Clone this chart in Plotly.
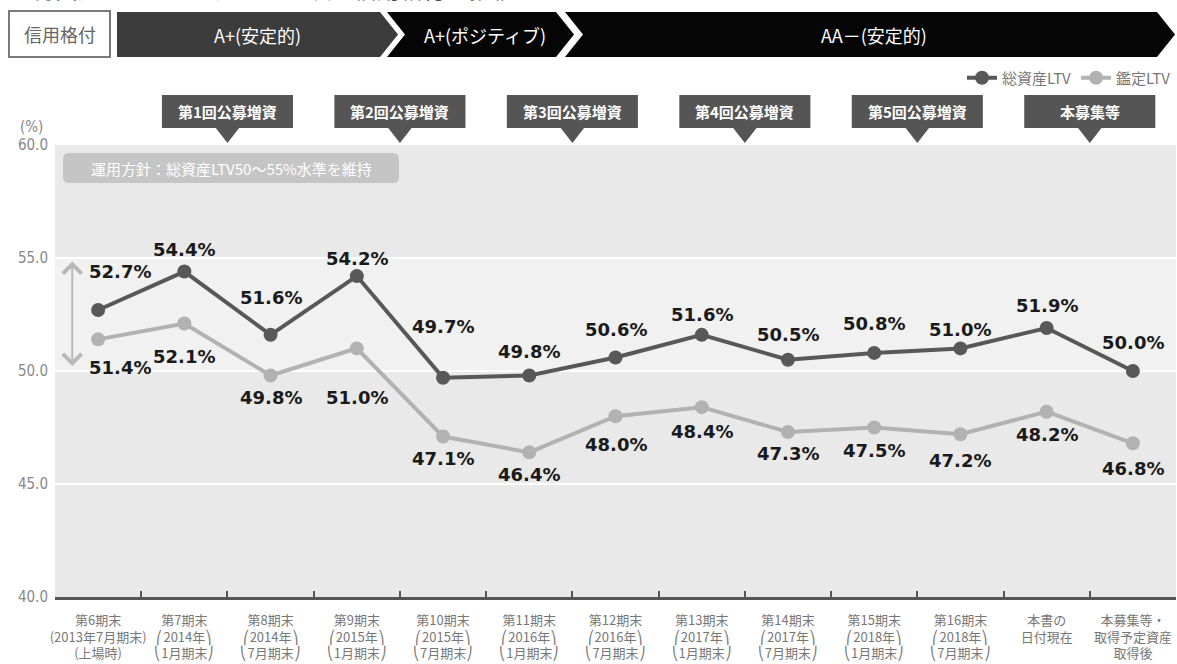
import plotly.graph_objects as go

periods = [
    '第6期末<br>(2013年7月期末)<br>(上場時)',
    '第7期末<br>⎛2014年⎞<br>⎝1月期末⎠',
    '第8期末<br>⎛2014年⎞<br>⎝7月期末⎠',
    '第9期末<br>⎛2015年⎞<br>⎝1月期末⎠',
    '第10期末<br>⎛2015年⎞<br>⎝7月期末⎠',
    '第11期末<br>⎛2016年⎞<br>⎝1月期末⎠',
    '第12期末<br>⎛2016年⎞<br>⎝7月期末⎠',
    '第13期末<br>⎛2017年⎞<br>⎝1月期末⎠',
    '第14期末<br>⎛2017年⎞<br>⎝7月期末⎠',
    '第15期末<br>⎛2018年⎞<br>⎝1月期末⎠',
    '第16期末<br>⎛2018年⎞<br>⎝7月期末⎠',
    '本書の<br>日付現在',
    '本募集等・<br>取得予定資産<br>取得後',
]
total_ltv = [52.7, 54.4, 51.6, 54.2, 49.7, 49.8, 50.6, 51.6, 50.5, 50.8, 51.0, 51.9, 50.0]
appraisal_ltv = [51.4, 52.1, 49.8, 51.0, 47.1, 46.4, 48.0, 48.4, 47.3, 47.5, 47.2, 48.2, 46.8]
y_ticks = [40, 45, 50, 55, 60]

offerings = ['第1回公募増資', '第2回公募増資', '第3回公募増資', '第4回公募増資', '第5回公募増資', '本募集等']
offering_after = [1, 3, 5, 7, 9, 11]
ratings = ['A+(安定的)', 'A+(ポジティブ)', 'AA－(安定的)']
title_text = '総資産ＬＴＶ、鑑定ＬＴＶ及び信用格付の推移'
policy_text = '運用方針：総資産LTV50～55%水準を維持'

# label nudges (pixels) so the value labels clear the lines
total_dy = [38, 22, 37, 18, 51, 24, 28, 20, 25, 29, 19, 23, 29]
appr_dy = [-28, -33, -22, -49, -22, -22, -28, -24, -21, -23, -26, -23, -25]
first_dx = 22

W, H = 1177, 664
L, R, T, B = 55, 1, 145, 67
PW, PH = W - L - R, H - T - B
CJK = 'Noto Sans CJK JP'

def px(x):
    return (x - L) / PW

def py(y):
    return (H - B - y) / PH

def cat_x(i):
    return (i + 0.5) / len(periods)

def poly(points):
    return 'M ' + ' L '.join(f'{px(x):.5f},{py(y):.5f}' for x, y in points) + ' Z'

def note(text, x, y, size, color, family=CJK, **kw):
    d = dict(text=text, xref='paper', yref='paper', x=px(x), y=py(y), showarrow=False,
             xanchor='center', yanchor='middle', font=dict(family=family, size=size, color=color))
    d.update(kw)
    return d

DARK = '#585858'
LIGHT = '#b2b2b2'

fig = go.Figure()
fig.add_trace(go.Scatter(x=periods, y=total_ltv, name='総資産LTV', mode='lines+markers',
                         line=dict(color=DARK, width=4), marker=dict(color=DARK, size=14)))
fig.add_trace(go.Scatter(x=periods, y=appraisal_ltv, name='鑑定LTV', mode='lines+markers',
                         line=dict(color=LIGHT, width=4), marker=dict(color=LIGHT, size=14)))

shapes = []
annotations = []

# lighter band for the 50-55% policy range
shapes.append(dict(type='rect', xref='paper', yref='y', x0=0, x1=1, y0=50, y1=55,
                   fillcolor='#f1f1f1', line=dict(width=0), layer='below'))

# rating banner
shapes.append(dict(type='rect', xref='paper', yref='paper', x0=px(9), x1=px(110), y0=py(57), y1=py(11),
                   fillcolor='white', line=dict(color='#7a7a7a', width=2)))
annotations.append(note('信用格付', 60, 34, 18, '#666'))
chevrons = [
    ([(117, 12), (380, 12), (398, 34.5), (380, 57), (117, 57)], '#3c3c3c'),
    ([(387, 12), (556, 12), (574, 34.5), (556, 57), (387, 57), (405, 34.5)], '#050505'),
    ([(565, 12), (1157, 12), (1175, 34.5), (1157, 57), (565, 57), (583, 34.5)], '#050505'),
]
for pts, col in chevrons:
    shapes.append(dict(type='path', xref='paper', yref='paper', path=poly(pts),
                       fillcolor=col, line=dict(width=0)))
for text, cx in zip(ratings, [257, 485, 874]):
    annotations.append(note(text, cx, 35, 18, 'white'))

# title, mostly cut off at the top edge
annotations.append(note(title_text, 30, 7, 23, '#222', xanchor='left', yanchor='bottom'))

# offering call-outs
half_w = 0.76 / len(periods)
tri_w = 0.14 / len(periods)
for text, i in zip(offerings, offering_after):
    cx = cat_x(i + 0.5)
    shapes.append(dict(type='rect', xref='paper', yref='paper', x0=cx - half_w, x1=cx + half_w,
                       y0=py(128), y1=py(95), fillcolor='#555555', line=dict(width=0)))
    shapes.append(dict(type='path', xref='paper', yref='paper',
                       path=f'M {cx - tri_w:.5f},{py(127.5):.5f} L {cx + tri_w:.5f},{py(127.5):.5f} '
                            f'L {cx:.5f},{py(143):.5f} Z',
                       fillcolor='#555555', line=dict(width=0)))
    annotations.append(dict(text=f'<b>{text}</b>', xref='paper', yref='paper', x=cx, y=py(111.5),
                            xanchor='center', yanchor='middle', showarrow=False,
                            font=dict(family=CJK, size=15, color='white')))

# policy label (rounded box)
x0, y0, x1, y1, r = 63, 153, 399, 183, 6
rr = (f'M {px(x0 + r)},{py(y0)} L {px(x1 - r)},{py(y0)} Q {px(x1)},{py(y0)} {px(x1)},{py(y0 + r)} '
      f'L {px(x1)},{py(y1 - r)} Q {px(x1)},{py(y1)} {px(x1 - r)},{py(y1)} '
      f'L {px(x0 + r)},{py(y1)} Q {px(x0)},{py(y1)} {px(x0)},{py(y1 - r)} '
      f'L {px(x0)},{py(y0 + r)} Q {px(x0)},{py(y0)} {px(x0 + r)},{py(y0)} Z')
shapes.append(dict(type='path', xref='paper', yref='paper', path=rr, fillcolor='#c5c5c5', line=dict(width=0)))
annotations.append(note(policy_text, (x0 + x1) / 2, 168, 15, 'white'))

# double arrow marking the 50-55% range
annotations.append(dict(x=-0.3, y=54.85, xref='x', yref='y', ax=-0.3, ay=50.15, axref='x', ayref='y',
                        text='', showarrow=True, arrowside='end+start', arrowhead=4, arrowsize=1.8,
                        arrowwidth=2, arrowcolor='#b8b8b8', standoff=0, startstandoff=0))

annotations.append(note('(%)', 31, 127, 15, '#888', family='DejaVu Sans Condensed, Noto Sans'))

# value labels
label_font = dict(family='DejaVu Sans', size=18, color='#1a1a1a')
for i, (p, v) in enumerate(zip(periods, total_ltv)):
    annotations.append(dict(text=f'<b>{v:.1f}%</b>', x=p, y=v, xref='x', yref='y', showarrow=False,
                            yshift=total_dy[i], xshift=first_dx if i == 0 else 0, font=label_font))
for i, (p, v) in enumerate(zip(periods, appraisal_ltv)):
    annotations.append(dict(text=f'<b>{v:.1f}%</b>', x=p, y=v, xref='x', yref='y', showarrow=False,
                            yshift=appr_dy[i], xshift=first_dx if i == 0 else 0, font=label_font))

fig.update_layout(
    width=W, height=H,
    margin=dict(l=L, r=R, t=T, b=B),
    paper_bgcolor='white', plot_bgcolor='#e9e9e9',
    font=dict(family=CJK, color='#666'),
    shapes=shapes, annotations=annotations,
    showlegend=True,
    legend=dict(orientation='h', x=1, xanchor='right', y=py(78), yanchor='middle',
                font=dict(family=CJK, size=15, color='#777'), bgcolor='rgba(0,0,0,0)',
                itemwidth=30, tracegroupgap=0),
)
fig.update_xaxes(type='category', range=[-0.5, len(periods) - 0.5], tickson='boundaries',
                 ticks='inside', ticklen=6, tickwidth=2, tickcolor='#555',
                 showline=True, linecolor='#555', linewidth=3, showgrid=False,
                 tickangle=0, automargin=False,
                 tickfont=dict(family=CJK, size=13, color='#777'), ticklabelstandoff=9)
fig.update_yaxes(range=[40, 60], tickvals=y_ticks, ticktext=[f'{v:.1f}' for v in y_ticks],
                 showgrid=True, gridcolor='white', gridwidth=2, zeroline=False, ticks='',
                 automargin=False,
                 tickfont=dict(family='DejaVu Sans Condensed, Noto Sans', size=15, color='#888'),
                 ticklabelstandoff=6)

# the page body has a default 8px margin; drop it so the figure sits at the window's corner
fig.write_html('out.html', config={'displayModeBar': False},
               post_script="document.body.style.margin='0';")
